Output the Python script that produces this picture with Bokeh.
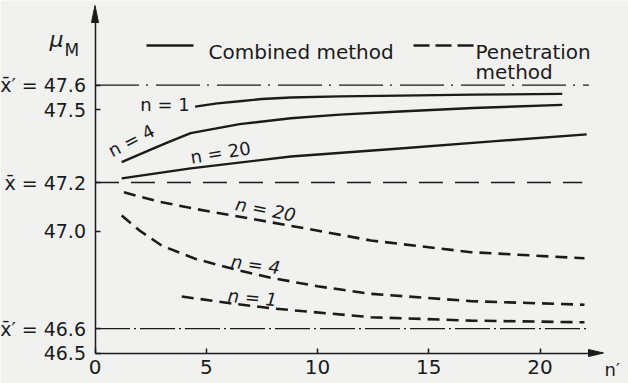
from bokeh.plotting import figure
from bokeh.models import FixedTicker, Range1d
from bokeh.core.properties import value
from bokeh.embed import file_html
from bokeh.resources import INLINE

# Estimated mean mu_M against number of samples n' (combined method, solid)
comb_n1_x = [4.5, 5.5, 6.5, 7.5, 8.8, 11.0, 13.7, 17.0, 21.0]
comb_n1_y = [47.512, 47.525, 47.534, 47.543, 47.549, 47.554, 47.557, 47.561, 47.564]
comb_n4_x = [1.2, 2.5, 3.3, 4.3, 6.5, 8.8, 11.0, 13.7, 17.0, 21.0]
comb_n4_y = [47.284, 47.335, 47.366, 47.403, 47.440, 47.464, 47.479, 47.492, 47.506, 47.519]
comb_n20_x = [1.2, 4.3, 8.8, 13.7, 18.0, 22.1]
comb_n20_y = [47.217, 47.258, 47.307, 47.340, 47.370, 47.398]

# Penetration method (dashed)
pen_n20_x = [1.3, 2.9, 4.5, 7.9, 10.7, 12.4, 16.9, 22.0]
pen_n20_y = [47.160, 47.121, 47.092, 47.037, 46.991, 46.962, 46.914, 46.889]
pen_n4_x = [1.2, 2.0, 3.0, 4.5, 6.3, 7.9, 10.0, 12.4, 16.9, 22.0]
pen_n4_y = [47.065, 47.003, 46.941, 46.887, 46.843, 46.809, 46.774, 46.743, 46.713, 46.698]
pen_n1_x = [3.9, 6.0, 8.1, 12.4, 16.9, 22.0]
pen_n1_y = [46.732, 46.705, 46.682, 46.647, 46.633, 46.626]

# Reference means
xbar = 47.2
xbar_prime = [47.6, 46.6]
ref_span = [0.0, 22.2]
xbar_span = [0.0, 21.9]

x_ticks = [0, 5, 10, 15, 20]
y_ticks = [46.5, 46.6, 47.0, 47.2, 47.5, 47.6]
y_tick_labels = ["46.5", "x\u0304\u2032 = 46.6", "47.0", "x\u0304 = 47.2", "47.5", "x\u0304\u2032 = 47.6"]

W, H = 628, 383
PX0, SX = 94.5, 22.25    # pixel column of n' = 0, pixels per unit of n'
PY0, SY = 352.5, 243.5   # pixel row of mu = 46.5, pixels per unit of mu

def fx(px):
    return (px - PX0) / SX

def fy(py):
    return 46.5 + (PY0 - py) / SY

INK = "#1b1b1b"
BG = "#f1f1f0"
FONT = "DejaVu Sans"

p = figure(width=W, height=H, output_backend="svg", toolbar_location=None,
           title=None, min_border=0,
           x_range=Range1d(fx(0), fx(W)), y_range=Range1d(fy(H), fy(0)))
p.outline_line_color = None
p.background_fill_color = BG
p.border_fill_color = BG
p.grid.visible = False

# axes pinned at the origin of the data
for ax in (p.xaxis[0], p.yaxis[0]):
    ax.axis_line_color = INK
    ax.axis_line_width = 1.5
    ax.major_tick_line_color = INK
    ax.major_tick_line_width = 1.5
    ax.major_tick_in = 5
    ax.major_tick_out = 0
    ax.minor_tick_in = 0
    ax.minor_tick_out = 0
    ax.major_label_text_font = FONT
    ax.major_label_text_color = INK

xa = p.xaxis[0]
xa.fixed_location = 46.5
xa.bounds = (0, fx(594))
xa.ticker = FixedTicker(ticks=x_ticks)
xa.major_label_text_font_size = "20px"
xa.major_label_standoff = 7

ya = p.yaxis[0]
ya.fixed_location = 0
ya.bounds = (46.5, fy(16))
ya.ticker = FixedTicker(ticks=y_ticks)
ya.major_label_overrides = {t: s for t, s in zip(y_ticks, y_tick_labels)}
ya.major_label_text_font_size = "19px"
ya.major_label_standoff = 9

# arrow heads of the axes
p.patch([-3.5 / SX, 0, 3.5 / SX], [fy(22), fy(5), fy(22)], color=INK, line_width=1)
p.patch([fx(588), fx(603), fx(588)], [46.5 + 3.5 / SY, 46.5, 46.5 - 3.5 / SY], color=INK, line_width=1)

# reference means
p.line(ref_span, [xbar_prime[0]] * 2, line_color=INK, line_width=1.1, line_dash="44 7 2 8")
p.line(ref_span, [xbar_prime[1]] * 2, line_color=INK, line_width=1.1, line_dash="35 4 2 4")
p.line(xbar_span, [xbar] * 2, line_color=INK, line_width=1.4, line_dash="24 12")

# curves
for xs, ys in [(comb_n1_x, comb_n1_y), (comb_n4_x, comb_n4_y), (comb_n20_x, comb_n20_y)]:
    p.line(xs, ys, line_color=INK, line_width=2.4, line_join="round")
for xs, ys in [(pen_n20_x, pen_n20_y), (pen_n4_x, pen_n4_y), (pen_n1_x, pen_n1_y)]:
    p.line(xs, ys, line_color=INK, line_width=2.6, line_dash="12 7")

# legend
p.line([fx(146), fx(193)], [fy(45)] * 2, line_color=INK, line_width=2.5)
p.line([fx(413), fx(473)], [fy(45)] * 2, line_color=INK, line_width=2.5, line_dash="16 6")
p.text(x=[fx(208), fx(475), fx(475)], y=[fy(51), fy(51), fy(71)],
       text=["Combined method", "Penetration", "method"],
       text_font=value(FONT), text_font_size=value("20px"), text_color=INK,
       text_align="left", text_baseline="alphabetic")

# axis titles
p.text(x=[fx(49)], y=[fy(39)], text=["\u03bc"], text_font=value(FONT),
       text_font_size=value("22px"), text_font_style="italic", text_color=INK,
       text_baseline="alphabetic")
p.text(x=[fx(64)], y=[fy(49)], text=["M"], text_font=value(FONT),
       text_font_size=value("17px"), text_color=INK, text_baseline="alphabetic")
p.text(x=[fx(604)], y=[fy(369)], text=["n\u2032"], text_font=value(FONT),
       text_font_size=value("18px"), text_color=INK, text_baseline="middle")

# curve labels
solid_lbl = [("n = 1", 164.5, 103.5, 0), ("n = 4", 130.7, 140, 27), ("n = 20", 220, 152, 9)]
for t, px, py, a in solid_lbl:
    p.text(x=[fx(px)], y=[fy(py)], text=[t], angle=a, angle_units="deg",
           text_font=value(FONT), text_font_size=value("18px"), text_color=INK,
           text_align="center", text_baseline="middle")
dash_lbl = [("n = 20", 265, 209, -11), ("n = 4", 255, 264, -8), ("n = 1", 252, 297, -5)]
for t, px, py, a in dash_lbl:
    p.text(x=[fx(px)], y=[fy(py)], text=[t], angle=a, angle_units="deg",
           text_font=value(FONT), text_font_size=value("18px"), text_font_style="italic",
           text_color=INK, text_align="center", text_baseline="middle")

open("out.html", "w").write(file_html(p, INLINE))
